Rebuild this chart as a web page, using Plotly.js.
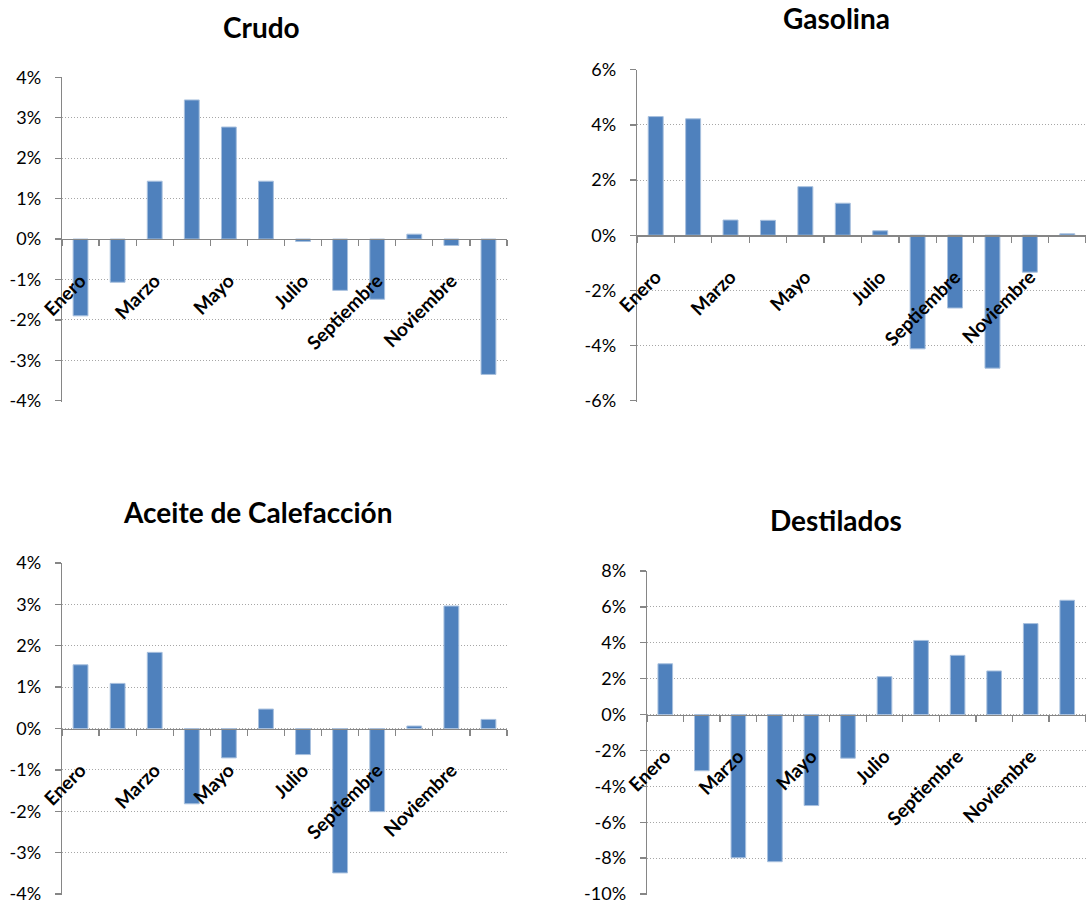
<!DOCTYPE html>
<html>
<head>
<meta charset="utf-8">
<script src="https://cdn.plot.ly/plotly-3.0.1.min.js"></script>
<style>
  html, body { margin: 0; padding: 0; background: #ffffff; }
  #chart { width: 1086px; height: 903px; }
</style>
</head>
<body>
<div id="chart"></div>
<script>
// Monthly change (%) by product
const months = ['Enero', 'Febrero', 'Marzo', 'Abril', 'Mayo', 'Junio',
                'Julio', 'Agosto', 'Septiembre', 'Octubre', 'Noviembre', 'Diciembre'];

const crudo      = [-1.90, -1.07, 1.43, 3.44, 2.77, 1.43, -0.06, -1.27, -1.49, 0.12, -0.16, -3.35];
const gasolina   = [4.30, 4.22, 0.55, 0.54, 1.76, 1.16, 0.16, -4.12, -2.64, -4.82, -1.34, 0.05];
const aceite     = [1.54, 1.09, 1.84, -1.82, -0.71, 0.47, -0.63, -3.49, -2.01, 0.06, 2.96, 0.22];
const destilados = [2.83, -3.13, -7.98, -8.20, -5.07, -2.43, 2.11, 4.13, 3.30, 2.43, 5.07, 6.37];

const titles = ['Crudo', 'Gasolina', 'Aceite de Calefacción', 'Destilados'];

// y tick values (%) for each panel
const ticksCrudo      = [-4, -3, -2, -1, 0, 1, 2, 3, 4];
const ticksGasolina   = [-6, -4, -2, 0, 2, 4, 6];
const ticksAceite     = [-4, -3, -2, -1, 0, 1, 2, 3, 4];
const ticksDestilados = [-10, -8, -6, -4, -2, 0, 2, 4, 6, 8];

// every other month carries a label
const labelledMonths = ['Enero', 'Marzo', 'Mayo', 'Julio', 'Septiembre', 'Noviembre'];

const W = 1086, H = 903;
const FONT = 'Lato, "Open Sans", Arial, sans-serif';
const AXIS = '#868686';
const GRID = '#A6A6A6';
const BAR = '#4F81BD';

// panel boxes in pixels: left, right, top, bottom; title centre
const panels = [
  { series: crudo,      ticks: ticksCrudo,      box: [62, 507, 77.3, 401.7],  tpos: [261, 27] },
  { series: gasolina,   ticks: ticksGasolina,   box: [637, 1086, 69.7, 401.7], tpos: [836, 18] },
  { series: aceite,     ticks: ticksAceite,     box: [62, 507, 563, 895],     tpos: [257, 512] },
  { series: destilados, ticks: ticksDestilados, box: [647, 1085.5, 571, 895], tpos: [836, 520] }
];

const idx = months.map((m, i) => i);
const boundaries = months.map((m, i) => i - 0.5).concat([months.length - 0.5]);
const labelPos = labelledMonths.map(m => months.indexOf(m));

const data = [];
const layout = {
  width: W, height: H,
  margin: { l: 0, r: 0, t: 0, b: 0 },
  paper_bgcolor: '#ffffff',
  plot_bgcolor: 'rgba(0,0,0,0)',
  showlegend: false,
  font: { family: FONT, color: '#000000' },
  bargap: 0.6,
  annotations: []
};

panels.forEach((p, k) => {
  const n = k + 1;
  const xs = n === 1 ? '' : String(n);
  const [l, r, t, b] = p.box;
  const yDom = [1 - b / H, 1 - t / H];
  const lo = p.ticks[0], hi = p.ticks[p.ticks.length - 1];
  // a hair of room below the lowest tick keeps its gridline drawn
  const yr = [lo - (hi - lo) * 0.003, hi];
  const zeroPos = yDom[0] + (0 - yr[0]) / (yr[1] - yr[0]) * (yDom[1] - yDom[0]);

  data.push({
    type: 'bar',
    x: idx,
    y: p.series,
    customdata: months,
    hovertemplate: '%{customdata}: %{y:.2f}%<extra></extra>',
    marker: { color: BAR, line: { color: '#A8C0DE', width: 1 } },
    xaxis: 'x' + xs,
    yaxis: 'y' + xs
  });

  layout['xaxis' + xs] = {
    domain: [l / W, r / W],
    range: [-0.5, months.length - 0.5],
    anchor: 'free',
    position: zeroPos,
    showline: true,
    linecolor: AXIS,
    linewidth: 1.3,
    showgrid: false,
    zeroline: false,
    tickmode: 'array',
    tickvals: labelPos,
    ticktext: labelledMonths,
    ticks: '',
    tickangle: -45,
    ticklabelstandoff: 22,
    ticklabeloverflow: 'allow',
    tickfont: { family: FONT, size: 19, weight: 700, color: '#000000' },
    minor: {
      tickmode: 'array',
      tickvals: boundaries,
      ticks: 'outside',
      ticklen: 6,
      tickwidth: 1.3,
      tickcolor: AXIS,
      showgrid: false
    },
    fixedrange: true
  };

  layout['yaxis' + xs] = {
    domain: yDom,
    range: yr,
    anchor: 'x' + xs,
    showline: true,
    linecolor: AXIS,
    linewidth: 1.3,
    zeroline: false,
    showgrid: true,
    gridcolor: GRID,
    gridwidth: 1,
    griddash: '1px,2px',
    tickmode: 'array',
    tickvals: p.ticks,
    ticktext: p.ticks.map(v => v + '%'),
    ticks: 'outside',
    ticklen: 6,
    tickwidth: 1.3,
    tickcolor: AXIS,
    ticklabelstandoff: 10,
    ticklabeloverflow: 'allow',
    tickfont: { family: FONT, size: 18, color: '#000000' },
    fixedrange: true
  };

  layout.annotations.push({
    xref: 'paper', yref: 'paper',
    x: p.tpos[0] / W, y: 1 - p.tpos[1] / H,
    xanchor: 'center', yanchor: 'middle',
    showarrow: false,
    text: titles[k],
    font: { family: FONT, size: 28, weight: 700, color: '#000000' }
  });
});

Plotly.newPlot('chart', data, layout, { displayModeBar: false, staticPlot: true });
</script>
</body>
</html>
